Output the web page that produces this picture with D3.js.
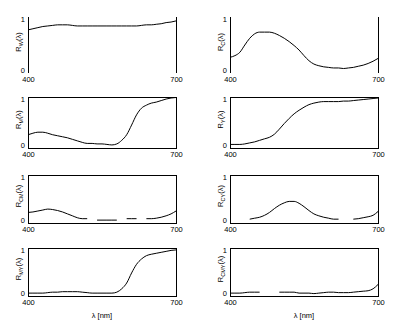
<!DOCTYPE html>
<html><head><meta charset="utf-8">
<script src="https://cdn.jsdelivr.net/npm/d3@7"></script>
<style>
body{margin:0;background:#fff;}
text{font-family:"Liberation Sans",Arial,sans-serif;}
</style></head>
<body><svg id="c" width="399" height="326"></svg>
<script>
const wavelengths = d3.range(400, 701, 10);
const xTicks = [400, 700];
const yTicks = [0, 1];
const xLabel = "λ [nm]";

const subs = ["W", "C", "M", "Y", "CM", "CY", "MY", "CMY"];
const R_W  = [0.77,0.79,0.81,0.83,0.84,0.85,0.86,0.86,0.86,0.85,0.84,0.84,0.84,0.84,0.84,0.84,0.84,0.84,0.84,0.84,0.84,0.84,0.84,0.85,0.86,0.86,0.87,0.88,0.90,0.91,0.93];
const R_C  = [0.28,0.31,0.37,0.50,0.62,0.70,0.73,0.73,0.73,0.71,0.67,0.62,0.56,0.49,0.41,0.31,0.22,0.16,0.13,0.11,0.10,0.09,0.09,0.08,0.09,0.10,0.12,0.14,0.17,0.21,0.26];
const R_M  = [0.26,0.29,0.31,0.31,0.29,0.26,0.24,0.22,0.20,0.17,0.14,0.11,0.09,0.09,0.08,0.08,0.07,0.06,0.08,0.15,0.26,0.45,0.65,0.78,0.84,0.88,0.90,0.93,0.96,0.98,0.99];
const R_Y  = [0.07,0.07,0.07,0.08,0.10,0.12,0.15,0.18,0.21,0.27,0.37,0.48,0.58,0.67,0.74,0.80,0.85,0.88,0.90,0.91,0.91,0.91,0.91,0.92,0.92,0.93,0.94,0.95,0.96,0.97,0.98];
const R_CM = [0.22,0.23,0.25,0.27,0.29,0.28,0.26,0.23,0.19,0.15,0.11,0.09,0.09,null,0.06,0.06,0.06,0.06,0.06,null,0.09,0.09,0.09,null,0.09,0.09,0.10,0.12,0.15,0.19,0.25];
const R_CY = [null,null,null,null,0.08,0.10,0.12,0.16,0.22,0.30,0.37,0.42,0.45,0.45,0.41,0.34,0.26,0.19,0.15,0.12,0.10,0.08,0.08,null,null,0.08,0.09,0.11,0.13,0.16,0.24];
const R_MY = [0.06,0.06,0.06,0.06,0.07,0.08,0.08,0.09,0.09,0.09,0.09,0.08,0.07,0.06,0.06,0.06,0.06,0.06,0.08,0.15,0.27,0.48,0.66,0.77,0.84,0.87,0.89,0.91,0.93,0.95,0.96];
const R_CMY= [0.06,0.06,0.06,0.07,0.08,0.08,0.08,null,null,null,0.08,0.08,0.08,0.08,0.06,0.06,0.06,0.05,0.06,0.07,0.08,0.08,0.07,0.07,0.07,0.08,0.09,0.10,0.11,0.15,0.24];
const series = [R_W, R_C, R_M, R_Y, R_CM, R_CY, R_MY, R_CMY];

const cols = [[28, 176], [230, 378]];
const rows = [[17, 73], [97, 148], [175, 223], [248, 296]];

const svg = d3.select("#c");

series.forEach((vals, i) => {
  const r = Math.floor(i / 2), c = i % 2;
  const [x0, x1] = cols[c], [y0, y1] = rows[r];
  const x = d3.scaleLinear().domain([400, 700]).range([x0, x1]);
  const y = d3.scaleLinear().domain([0, 1]).range([y1, y0]);
  const g = svg.append("g");

  // frame
  if (r === 0) {
    g.append("line").attr("x1", x0 + 0.5).attr("x2", x0 + 0.5).attr("y1", y0).attr("y2", y1).attr("stroke", "#000");
    g.append("line").attr("x1", x1 + 0.5).attr("x2", x1 + 0.5).attr("y1", y0).attr("y2", y1).attr("stroke", "#000");
  } else {
    g.append("rect").attr("x", x0 + 0.5).attr("y", y0 + 0.5).attr("width", x1 - x0).attr("height", y1 - y0)
      .attr("fill", "none").attr("stroke", "#000");
  }

  // axes (labels only)
  const ay = g.append("g").attr("transform", `translate(${x0},0)`)
    .call(d3.axisLeft(y).tickValues(yTicks).tickSize(0).tickPadding(3).tickFormat(d3.format("d")));
  ay.select(".domain").remove();
  ay.selectAll(".tick text").attr("dy", (d) => d === 0 ? "-0.1em" : "0.55em");
  const ax = g.append("g").attr("transform", `translate(0,${y1})`)
    .call(d3.axisBottom(x).tickValues(xTicks).tickSize(0).tickPadding(4).tickFormat(d3.format("d")));
  ax.select(".domain").remove();
  g.selectAll(".tick text").attr("font-size", 7.5).attr("fill", "#000")
    .attr("font-family", "'Liberation Sans', Arial, sans-serif");

  // y label
  const t = g.append("text")
    .attr("transform", `translate(${x0 - 7},${(y0 + y1) / 2 - 3}) rotate(-90)`)
    .attr("text-anchor", "middle").attr("font-size", 7.5);
  t.append("tspan").text("R");
  t.append("tspan").text(subs[i]).attr("font-size", 5.5).attr("dy", 2);
  t.append("tspan").text("(λ)").attr("dy", -2);

  // curve
  const line = d3.line()
    .defined((d) => d !== null)
    .x((d, k) => x(wavelengths[k]))
    .y((d) => y(d))
    .curve(d3.curveMonotoneX);
  g.append("path").datum(vals).attr("d", line)
    .attr("fill", "none").attr("stroke", "#000").attr("stroke-width", 1);

  if (r === 3) {
    g.append("text").attr("x", (x0 + x1) / 2).attr("y", 318)
      .attr("text-anchor", "middle").attr("font-size", 7.5).text(xLabel);
  }
});
</script></body></html>
